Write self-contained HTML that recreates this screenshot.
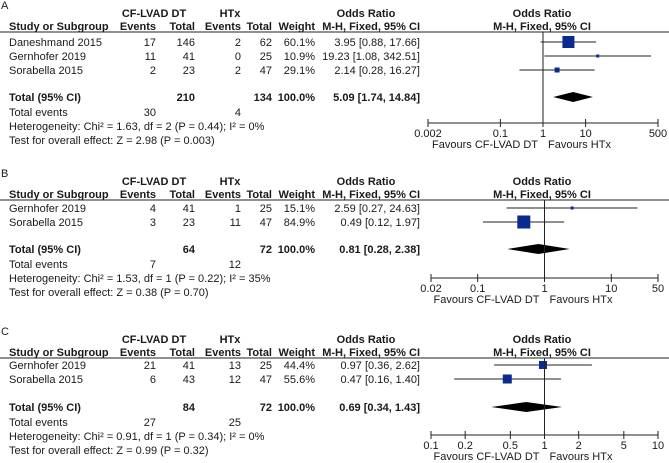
<!DOCTYPE html>
<html><head><meta charset="utf-8"><style>
body{margin:0;background:#fff}
svg{display:block;font-family:"Liberation Sans",Arial,sans-serif;font-size:11px;fill:#1a1a1a}
.b{font-weight:bold}
</style></head><body>
<svg id="s" width="669" height="463" viewBox="0 0 669 463"></svg>
<script>
const panelLabels=["A","B","C"];
const studiesA=["Daneshmand 2015","Gernhofer 2019","Sorabella 2015"];
const evA1=[17,11,2], totA1=[146,41,23], evA2=[2,0,2], totA2=[62,25,47];
const wA=[60.1,10.9,29.1], orA=[3.95,19.23,2.14], loA=[0.88,1.08,0.28], hiA=[17.66,342.51,16.27];
const studiesB=["Gernhofer 2019","Sorabella 2015"];
const evB1=[4,3], totB1=[41,23], evB2=[1,11], totB2=[25,47];
const wB=[15.1,84.9], orB=[2.59,0.49], loB=[0.27,0.12], hiB=[24.63,1.97];
const studiesC=["Gernhofer 2019","Sorabella 2015"];
const evC1=[21,6], totC1=[41,43], evC2=[13,12], totC2=[25,47];
const wC=[44.4,55.6], orC=[0.97,0.47], loC=[0.36,0.16], hiC=[2.62,1.40];
const totalsOR=[5.09,0.81,0.69], totalsLo=[1.74,0.28,0.34], totalsHi=[14.84,2.38,1.43];
const totalN1=[210,64,84], totalN2=[134,72,72], totalEv1=[30,7,27], totalEv2=[4,12,25];
const hetText=["Heterogeneity: Chi² = 1.63, df = 2 (P = 0.44); I² = 0%","Heterogeneity: Chi² = 1.53, df = 1 (P = 0.22); I² = 35%","Heterogeneity: Chi² = 0.91, df = 1 (P = 0.34); I² = 0%"];
const testText=["Test for overall effect: Z = 2.98 (P = 0.003)","Test for overall effect: Z = 0.38 (P = 0.70)","Test for overall effect: Z = 0.99 (P = 0.32)"];
const ticksA=[0.002,0.1,1,10,500], ticksB=[0.02,0.1,1,10,50], ticksC=[0.1,0.2,0.5,1,2,5,10];
const tickLabelsA=["0.002","0.1","1","10","500"], tickLabelsB=["0.02","0.1","1","10","50"], tickLabelsC=["0.1","0.2","0.5","1","2","5","10"];

const S=document.getElementById('s');const NS='http://www.w3.org/2000/svg';
function el(t,a,txt){const e=document.createElementNS(NS,t);for(const k in a)e.setAttribute(k,a[k]);if(txt!==undefined)e.textContent=txt;S.appendChild(e);return e;}
function T(x,y,s,anchor,bold,name){const e=el('text',{x:x,y:y,'text-anchor':anchor||'start',class:bold?'b':''},s);

return e;}
function f2(v){return v.toFixed(2);}

const panels=[
 {top:0,studies:studiesA,e1:evA1,t1:totA1,e2:evA2,t2:totA2,w:wA,or:orA,lo:loA,hi:hiA,ticks:ticksA,tl:tickLabelsA,ax:[428,658],rows:[42,56,70],tot:97,axisY:123,sizes:[12,3,5]},
 {top:168,studies:studiesB,e1:evB1,t1:totB1,e2:evB2,t2:totB2,w:wB,or:orB,lo:loB,hi:hiB,ticks:ticksB,tl:tickLabelsB,ax:[431,658],rows:[208,222],tot:249,axisY:278,sizes:[3,13]},
 {top:326,studies:studiesC,e1:evC1,t1:totC1,e2:evC2,t2:totC2,w:wC,or:orC,lo:loC,hi:hiC,ticks:ticksC,tl:tickLabelsC,ax:[431,658],rows:[365,379],tot:407,axisY:435,sizes:[8,9]}
];
panels.forEach((p,i)=>{
 const o=p.top; const hl=o+32;
 T(1,o+9,panelLabels[i],'start',false,'panel-label');
 T(154,o+17,'CF-LVAD DT','middle',true,'group-header-cf-lvad');
 T(230,o+17,'HTx','middle',true,'group-header-htx');
 T(366,o+17,'Odds Ratio','middle',true,'odds-ratio-header');
 T(542,o+17,'Odds Ratio','middle',true,'plot-header');
 T(9,o+30,'Study or Subgroup','start',true,'study-column-header');
 T(156,o+30,'Events','end',true,'events-header');
 T(195,o+30,'Total','end',true,'total-header');
 T(241,o+30,'Events','end',true,'events-header');
 T(272,o+30,'Total','end',true,'total-header');
 T(315,o+30,'Weight','end',true,'weight-header');
 T(420,o+30,'M-H, Fixed, 95% CI','end',true,'method-header');
 T(542,o+30,'M-H, Fixed, 95% CI','middle',true,'plot-method-header');
 const ln=el('line',{x1:0,x2:669,y1:hl,y2:hl,stroke:'#222','stroke-width':1});
 
 
 const lmin=Math.log10(p.ticks[0]),lmax=Math.log10(p.ticks[p.ticks.length-1]);
 const X=v=>p.ax[0]+(Math.log10(v)-lmin)/(lmax-lmin)*(p.ax[1]-p.ax[0]);
 p.studies.forEach((s,j)=>{const y=p.rows[j]+4;
  T(9,y,s,'start',false,'study-name');
  T(156,y,String(p.e1[j]),'end',false,'events-cf');
  T(195,y,String(p.t1[j]),'end',false,'total-cf');
  T(241,y,String(p.e2[j]),'end',false,'events-htx');
  T(272,y,String(p.t2[j]),'end',false,'total-htx');
  T(315,y,p.w[j].toFixed(1)+'%','end',false,'weight');
  T(420,y,f2(p.or[j])+' ['+f2(p.lo[j])+', '+f2(p.hi[j])+']','end',false,'odds-ratio-ci');
  const c=el('line',{x1:X(p.lo[j]),x2:X(p.hi[j]),y1:p.rows[j],y2:p.rows[j],stroke:'#222','stroke-width':1});
  
  
  const sz=p.sizes[j];
  const r=el('rect',{x:X(p.or[j])-sz/2,y:p.rows[j]-sz/2,width:sz,height:sz,fill:'#0a2a8f'});
  
  
 });
 const ty=p.tot+4;
 T(9,ty,'Total (95% CI)','start',true,'total-label');
 T(195,ty,String(totalN1[i]),'end',true,'total-n-cf');
 T(272,ty,String(totalN2[i]),'end',true,'total-n-htx');
 T(315,ty,'100.0%','end',true,'total-weight');
 T(420,ty,f2(totalsOR[i])+' ['+f2(totalsLo[i])+', '+f2(totalsHi[i])+']','end',true,'total-or');
 T(9,ty+15,'Total events','start',false,'total-events-label');
 T(156,ty+15,String(totalEv1[i]),'end',false,'total-events-cf');
 T(241,ty+15,String(totalEv2[i]),'end',false,'total-events-htx');
 T(9,ty+29,hetText[i],'start',false,'heterogeneity');
 T(9,ty+43,testText[i],'start',false,'overall-effect');
 const d=el('polygon',{points:`${X(totalsLo[i])},${p.tot} ${X(totalsOR[i])},${p.tot-5} ${X(totalsHi[i])},${p.tot} ${X(totalsOR[i])},${p.tot+5}`,fill:'#000'});
 
 
 const v=el('line',{x1:X(1),x2:X(1),y1:hl,y2:p.axisY,stroke:'#222','stroke-width':1});
 
 
 const a=el('line',{x1:p.ax[0],x2:p.ax[1],y1:p.axisY,y2:p.axisY,stroke:'#222','stroke-width':1});
 
 
 p.ticks.forEach((t,k)=>{
  const tk=el('line',{x1:X(t),x2:X(t),y1:p.axisY-4,y2:p.axisY+4,stroke:'#222','stroke-width':1});
  
  
  T(X(t),p.axisY+14,p.tl[k],'middle',false,'x-tick-label');
 });
 T(X(1)-5,p.axisY+25,'Favours CF-LVAD DT','end',false,'favours-left');
 T(X(1)+5,p.axisY+25,'Favours HTx','start',false,'favours-right');
});
</script>
</body></html>
